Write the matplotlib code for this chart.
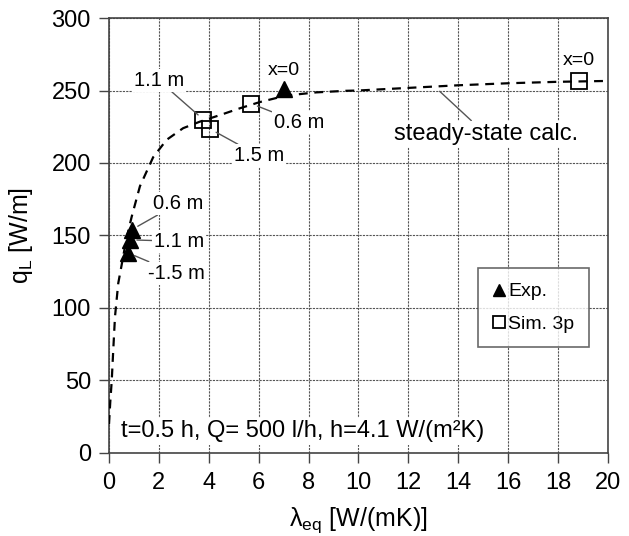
import numpy as np
import matplotlib
matplotlib.use('Agg')
from matplotlib import pyplot as plt

plt.rcParams['font.family'] = ['Liberation Sans', 'DejaVu Sans']
plt.rcParams['mathtext.fontset'] = 'custom'
plt.rcParams['mathtext.rm'] = 'Liberation Sans'
plt.rcParams['mathtext.it'] = 'Liberation Sans'

# steady-state calculation
calc_x = [0.0, 0.05, 0.11, 0.17, 0.24, 0.37, 0.51, 0.7, 0.91, 1.24, 1.77, 2.31, 2.97,
          3.64, 4.44, 5.24, 6.04, 7.1, 8.3, 9.5, 10.0, 12.0, 14.0, 16.0, 18.0, 20.0]
calc_q = [20, 35, 50, 71, 94, 117, 130, 148, 163, 184, 204, 216, 224,
          228.5, 233, 237.7, 242, 246.5, 248.7, 249.8, 250, 251.8, 253.6, 255, 256, 256.6]

# experiment
exp_x = [0.76, 0.84, 0.91, 7.0]
exp_q = [138, 147, 154, 251]
exp_lbl = ['-1.5 m', '1.1 m', '0.6 m', 'x=0']

# simulation 3p
sim_x = [3.78, 4.05, 5.69, 18.85]
sim_q = [230, 223.5, 241, 256.5]
sim_lbl = ['1.1 m', '1.5 m', '0.6 m', 'x=0']

fig = plt.figure(figsize=(6.29, 5.36), dpi=100)
ax = fig.add_axes([0.1733, 0.1549, 0.7933, 0.8115])

ax.plot(calc_x, calc_q, color='black', lw=1.6, ls=(0, (4, 3)), zorder=3)
ax.plot(exp_x, exp_q, ls='none', marker='^', ms=11, color='black', label='Exp.', zorder=4)
ax.plot(sim_x, sim_q, ls='none', marker='s', ms=11, mfc='none', mec='black', mew=1.3,
        label='Sim. 3p', zorder=4)

fs = 14.5
lc = '#555555'
bb = dict(boxstyle='square,pad=0.1', fc='white', ec='none')


def note(txt, xy, xytext, ha='left', size=fs):
    ax.annotate(txt, xy=xy, xytext=xytext, fontsize=size, ha=ha, va='center', bbox=bb,
                arrowprops=dict(arrowstyle='-', color=lc, lw=1, shrinkA=0, shrinkB=5),
                zorder=5)


# experiment labels
note(exp_lbl[0], (exp_x[0], exp_q[0]), (1.55, 124))
note(exp_lbl[1], (exp_x[1], exp_q[1]), (1.8, 146))
note(exp_lbl[2], (exp_x[2], exp_q[2]), (1.75, 172))
ax.text(exp_x[3], exp_q[3] + 13, exp_lbl[3], fontsize=14, ha='center', va='center')

# simulation labels
note(sim_lbl[0], (sim_x[0], sim_q[0]), (3.0, 257), ha='right')
note(sim_lbl[1], (sim_x[1], sim_q[1]), (5.0, 205))
note(sim_lbl[2], (sim_x[2], sim_q[2]), (6.6, 228))
ax.text(sim_x[3], sim_q[3] + 14, sim_lbl[3], fontsize=14, ha='center', va='center')

note('steady-state calc.', (13.05, 252.7), (15.1, 220), ha='center', size=17)

ax.text(0.5, 15, 't=0.5 h, Q= 500 l/h, h=4.1 W/(m²K)', fontsize=17, ha='left',
        va='center', bbox=dict(boxstyle='square,pad=0.1', fc='white', ec='none'), zorder=5)

ax.set_xlim(0, 20)
ax.set_ylim(0, 300)
ax.set_xticks(np.arange(0, 21, 2))
ax.set_yticks(np.arange(0, 301, 50))
ax.tick_params(labelsize=17, direction='out', length=7, width=1, color='#444444')
ax.tick_params(axis='x', pad=7)
ax.tick_params(axis='y', pad=6)
ax.grid(True, color='#555555', ls=(0, (2, 1)), lw=0.8)
ax.set_axisbelow(True)
for s in ax.spines.values():
    s.set_color('#444444')
    s.set_linewidth(1.2)

ax.set_xlabel('λ$_\\mathrm{eq}$ [W/(mK)]', fontsize=18, labelpad=8)
ax.set_ylabel('q$_\\mathrm{L}$ [W/m]', fontsize=18, labelpad=12)

leg = ax.legend(loc='upper left', bbox_to_anchor=(0.74, 0.425), fontsize=14, frameon=True,
                fancybox=False, edgecolor='#444444', handlelength=0.6, handletextpad=0.2,
                borderpad=0.75, labelspacing=0.75, markerscale=0.8, borderaxespad=0)
leg.get_frame().set_linewidth(1.2)

fig.savefig('out.png', dpi=100)
